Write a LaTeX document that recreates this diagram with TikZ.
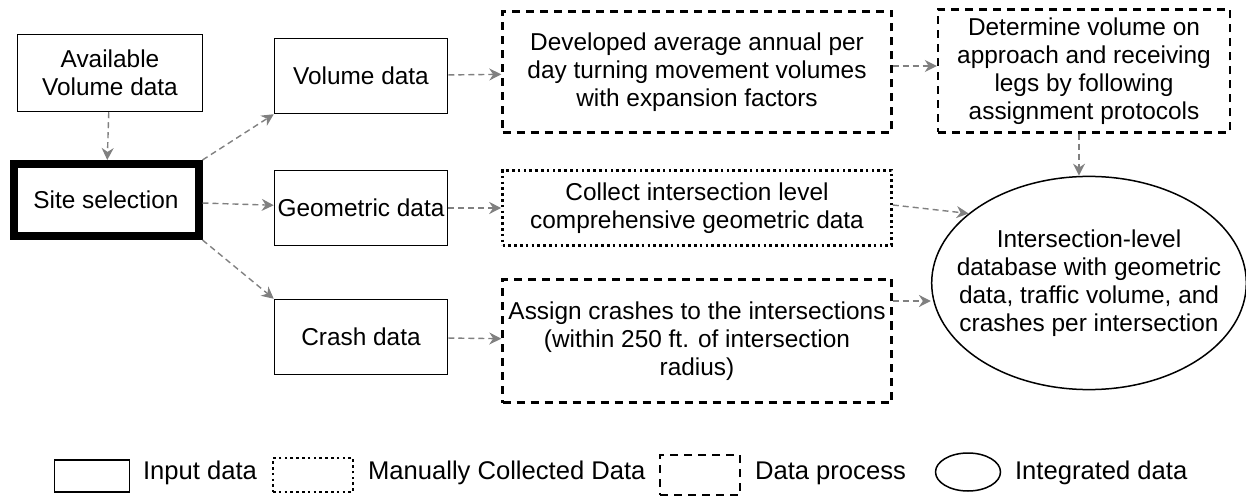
\documentclass[tikz,border=0pt]{standalone}
\usepackage{fontspec}
\setmainfont{Liberation Sans}
\usepackage{tikz}
\usetikzlibrary{shapes.geometric,arrows.meta}

\begin{document}
\begin{tikzpicture}[x=0.5pt, y=-0.5pt, font=\fontsize{12.2}{14}\selectfont]
    \useasboundingbox (0,0) rectangle (1246,496);

    % --- DEFINE STYLES ---
    % Style for input data boxes
    \tikzstyle{inputbox} = [rectangle, draw, line width=0.75pt, align=center, inner sep=0pt, minimum width=86.5pt, minimum height=37.5pt]
    % Style for manually collected data
    \tikzstyle{manualbox} = [inputbox, line width=1.3pt, dash pattern=on 1.3pt off 1.6pt]
    % Style for data process boxes
    \tikzstyle{processbox} = [inputbox, line width=1.2pt, dash pattern=on 4pt off 3pt]
    % Style for integrated data
    \tikzstyle{integrated} = [ellipse, draw, line width=0.75pt, align=center, inner sep=0pt]
    % Style for the connectors
    \tikzstyle{flow} = [draw=gray, line width=0.7pt, dash pattern=on 3pt off 2pt, -{Stealth[length=6pt, width=6pt]}]
    % Style for legend texts
    \tikzstyle{legtext} = [anchor=west, font=\fontsize{12.8}{15}\selectfont]

    % --- INPUT DATA ---
    \node[inputbox, minimum width=92.5pt, minimum height=38.5pt] (avail) at (110,73) {Available\\Volume data};
    \node[inputbox, line width=4pt, minimum width=92.5pt, minimum height=36pt] (site) at (106,200) {Site selection};
    \node[inputbox] (volume) at (361,76) {Volume data};
    \node[inputbox] (geom) at (361,208) {Geometric data};
    \node[inputbox] (crash) at (361,337) {Crash data};

    % --- PROCESSING ---
    \node[processbox, minimum width=194.5pt, minimum height=60.5pt] (develop) at (697,72) {Developed average annual per\\day turning movement volumes\\with expansion factors};
    \node[processbox, minimum width=146pt, minimum height=61.5pt] (determine) at (1084,71) {Determine volume on\\approach and receiving\\legs by following\\assignment protocols};
    \node[manualbox, minimum width=194.5pt] (collect) at (697,208) {Collect intersection level\\comprehensive geometric data};
    \node[processbox, minimum width=194.5pt, minimum height=61.5pt] (assign) at (697,341) {Assign crashes to the intersections\\(within 250 ft. of intersection\\radius)};
    \node[integrated, inner xsep=-10.5pt, inner ysep=11pt] (db) at (1089,283) {Intersection-level\\database with geometric\\data, traffic volume, and\\crashes per intersection};

    % --- CONNECTORS ---
    \draw[flow] (avail) -- (site);
    \draw[flow] (site.north east) -- (volume.south west);
    \draw[flow] (site) -- (geom);
    \draw[flow] (site.south east) -- (crash.north west);
    \draw[flow] (volume) -- (develop);
    \draw[flow] (geom) -- (collect);
    \draw[flow] (crash) -- (assign);
    \draw[flow] (develop.east |- 0,66) -- (determine.west |- 0,66);
    \draw[flow] (determine.south -| 1079,0) -- (db.north -| 1079,0);
    \draw[flow] (collect.north east |- 0,205) -- (db.150);
    \draw[flow] (assign.east |- 0,301) -- (db.west |- 0,301);

    % --- LEGEND ---
    \node[inputbox, minimum width=37.5pt, minimum height=16pt] (leginput) at (92,476) {};
    \node[legtext] (leginputtxt) at (136,473) {Input data};
    \node[manualbox, minimum width=40pt, minimum height=17pt] (legmanual) at (313,475) {};
    \node[legtext] (legmanualtxt) at (361,473) {Manually Collected Data};
    \node[processbox, minimum width=40pt, minimum height=20pt] (legprocess) at (700,475) {};
    \node[legtext] (legprocesstxt) at (748,473) {Data process};
    \node[integrated, minimum width=32.5pt, minimum height=19pt] (legdb) at (968,472) {};
    \node[legtext] (legdbtxt) at (1008,473) {Integrated data};
\end{tikzpicture}
\end{document}
